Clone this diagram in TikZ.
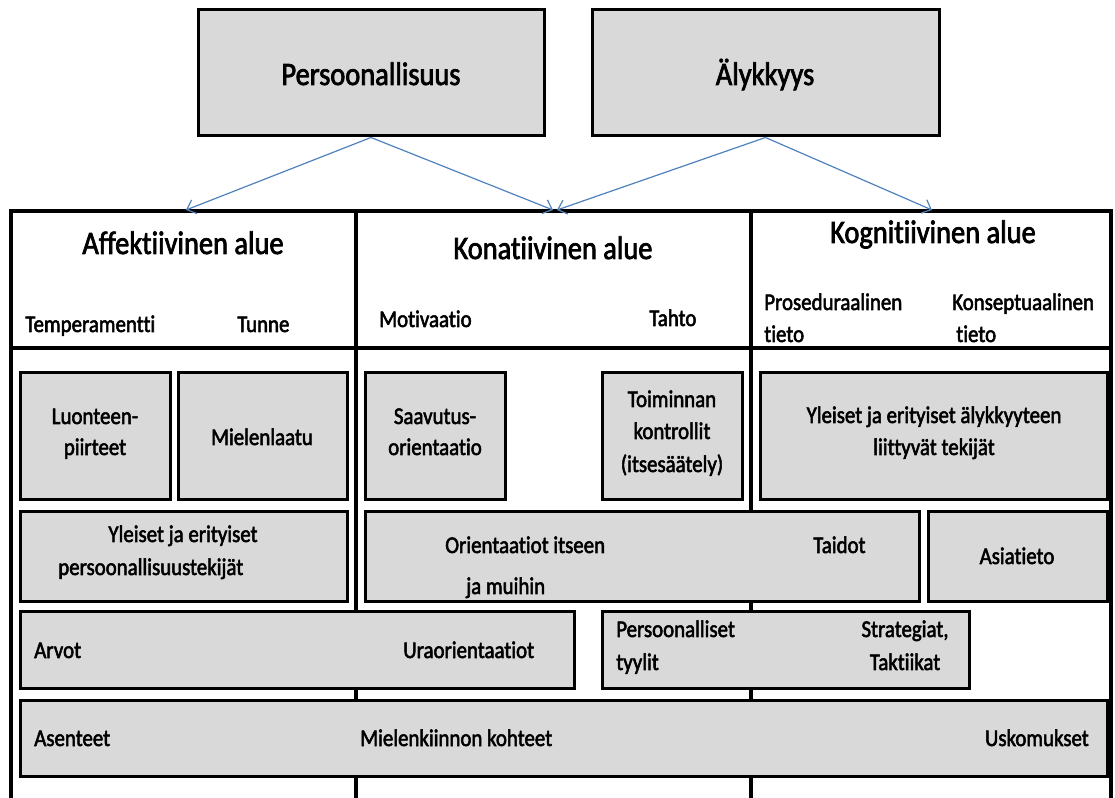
\documentclass[tikz,border=0pt]{standalone}
\usepackage{fontspec}
\setmainfont{Carlito}[FakeStretch=0.87, FakeBold=2.2, Ligatures=NoCommon]
\usetikzlibrary{arrows.meta,fit}
\definecolor{boxfill}{HTML}{D9D9D9}
\definecolor{arrowblue}{HTML}{4F81BD}
\begin{document}
\begin{tikzpicture}[x=0.75pt,y=-0.75pt,
  box/.style={draw=black, fill=boxfill, line width=2.25pt, inner sep=0pt},
  frameline/.style={draw=black, line width=2.4pt},
  link/.style={draw=arrowblue, line width=0.9pt, -{Straight Barb[length=6pt,width=11pt]}},
  big/.style={font=\fontsize{24.5}{29}\selectfont, inner sep=0pt},
  lbl/.style={font=\fontsize{18}{24}\selectfont, inner sep=0pt},
]
\useasboundingbox (0,0) rectangle (1115,798);

% outer frame and column dividers
\draw[frameline] (11,798) -- (11,211) -- (1111,211) -- (1111,798);
\draw[frameline] (11,348) -- (1111,348);
\draw[frameline] (356,211) -- (356,798);
\draw[frameline] (751,211) -- (751,798);

% top level concepts
\node[box, fit={(198,10) (544,136)}] (pers) {};
\node[box, fit={(592,10) (939,136)}] (aly) {};
\node[big, anchor=base] (persT) at (371,85) {Persoonallisuus};
\node[big, anchor=base] (alyT) at (765,85) {Älykkyys};

% arrow targets on the frame
\coordinate (tAff) at (186,210);
\coordinate (tKonA) at (553,210);
\coordinate (tKonB) at (557,210);
\coordinate (tKog) at (932,210);
\draw[link] (pers.south) -- (tAff);
\draw[link] (pers.south) -- (tKonA);
\draw[link] (aly.south) -- (tKonB);
\draw[link] (aly.south) -- (tKog);

% column headers
\node[big, anchor=base] (haff) at (183,254) {Affektiivinen alue};
\node[big, anchor=base] (hkon) at (553,259) {Konatiivinen alue};
\node[big, anchor=base] (hkog) at (933,243) {Kognitiivinen alue};

\node[lbl, anchor=base west] (temp) at (25,332) {Temperamentti};
\node[lbl, anchor=base west] (tunne) at (237,332) {Tunne};
\node[lbl, anchor=base west] (moti) at (379,327) {Motivaatio};
\node[lbl, anchor=base west] (tahto) at (649,326) {Tahto};
\node[lbl, anchor=base west] (pros) at (764,310) {Proseduraalinen};
\node[lbl, anchor=base west] (prost) at (764,342) {tieto};
\node[lbl, anchor=base west] (kons) at (952,310) {Konseptuaalinen};
\node[lbl, anchor=base west] (konst) at (956,342) {tieto};

% first row of boxes
\node[box, fit={(20,373) (170,500)}] (luo) {};
\node[box, fit={(178,373) (347,500)}] (miel) {};
\node[box, fit={(365,373) (505,500)}] (saav) {};
\node[box, fit={(602,373) (742,500)}] (toim) {};
\node[box, fit={(760,373) (1107,500)}] (yaly) {};

% second row
\node[box, fit={(20,512) (347,602)}] (ypers) {};
\node[box, fit={(365,512) (919,602)}] (orient) {};
\node[box, fit={(928,512) (1107,602)}] (asia) {};

% third row
\node[box, fit={(20,612) (574,688)}] (arvot) {};
\node[box, fit={(602,612) (969,688)}] (tyyl) {};

% bottom row
\node[box, fit={(20,700) (1107,776)}] (asen) {};

% texts of the first row
\node[lbl, anchor=base] (luo1) at (95,424) {Luonteen-};
\node[lbl, anchor=base] (luo2) at (95,455) {piirteet};
\node[lbl, anchor=base] (mielT) at (262,445) {Mielenlaatu};
\node[lbl, anchor=base] (saa1) at (435,424) {Saavutus-};
\node[lbl, anchor=base] (saa2) at (435,455) {orientaatio};
\node[lbl, anchor=base] (toi1) at (672,407) {Toiminnan};
\node[lbl, anchor=base] (toi2) at (672,439) {kontrollit};
\node[lbl, anchor=base] (toi3) at (672,472) {(itsesäätely)};
\node[lbl, anchor=base] (yal1) at (934,423) {Yleiset ja erityiset älykkyyteen};
\node[lbl, anchor=base] (yal2) at (934,455) {liittyvät tekijät};

% texts of the lower rows
\node[lbl, anchor=base] (ype1) at (183,542) {Yleiset ja erityiset};
\node[lbl, anchor=base west] (ype2) at (58,575) {persoonallisuustekijät};
\node[lbl, anchor=base west] (ori1) at (445,553) {Orientaatiot itseen};
\node[lbl, anchor=base west] (ori2) at (466,594) {ja muihin};
\node[lbl, anchor=base west] (taid) at (813,553) {Taidot};
\node[lbl, anchor=base] (asiaT) at (1017,564) {Asiatieto};
\node[lbl, anchor=base west] (arv) at (34,658) {Arvot};
\node[lbl, anchor=base west] (ura) at (403,658) {Uraorientaatiot};
\node[lbl, anchor=base west] (pty1) at (616,637) {Persoonalliset};
\node[lbl, anchor=base west] (pty2) at (616,670) {tyylit};
\node[lbl, anchor=base] (str1) at (905,637) {Strategiat,};
\node[lbl, anchor=base] (str2) at (905,670) {Taktiikat};
\node[lbl, anchor=base west] (ase) at (34,746) {Asenteet};
\node[lbl, anchor=base west] (miek) at (360,746) {Mielenkiinnon kohteet};
\node[lbl, anchor=base east] (usk) at (1089,746) {Uskomukset};
\end{tikzpicture}
\end{document}
